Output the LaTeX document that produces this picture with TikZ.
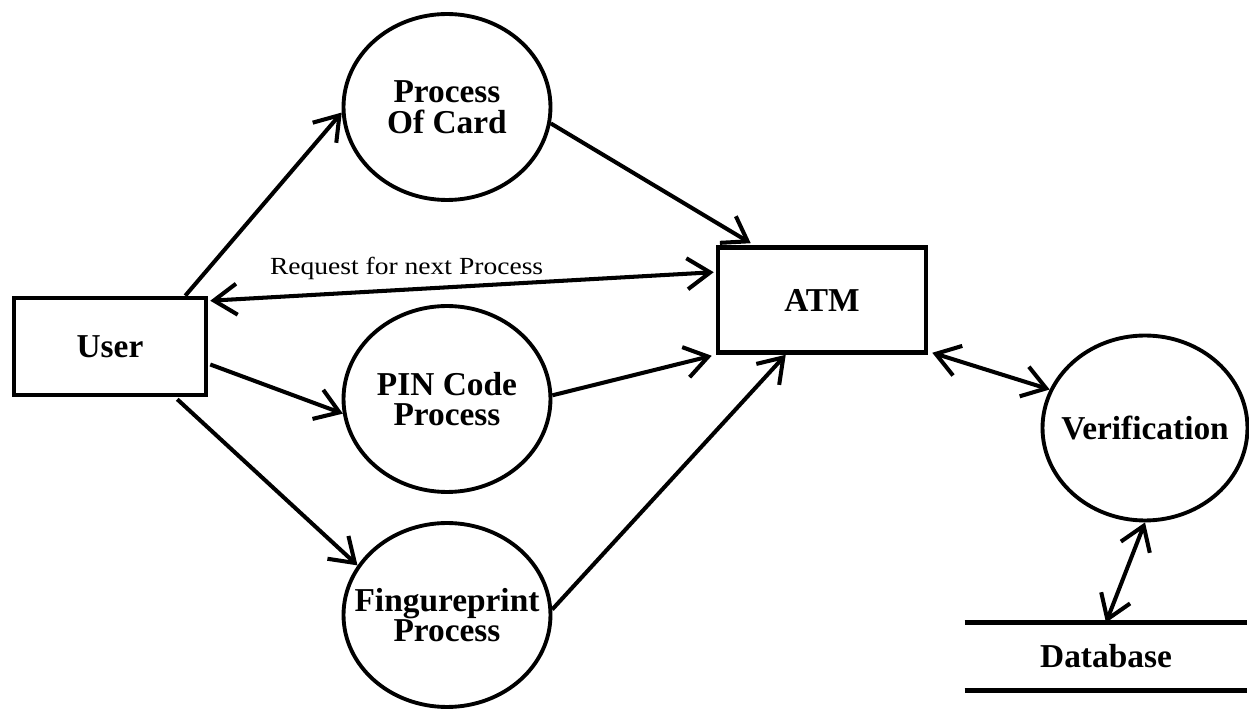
\documentclass[tikz,border=0pt]{standalone}
\usepackage{fontspec}
\setmainfont{Liberation Serif}
\newfontfamily\reqfont[FakeStretch=1.12]{Liberation Serif}
\usetikzlibrary{calc}
\usetikzlibrary{arrows.meta}
\usetikzlibrary{shapes.geometric}

\newcommand{\dfdfont}{\fontsize{19}{17.5}\selectfont\bfseries}
\newcommand{\barb}{Straight Barb[length=0.46cm,width=0.62cm]}
% zero width line, so the ellipse keeps its own size
\newcommand{\zl}[1]{\makebox[0pt]{#1}}
\tikzset{
  entity/.style={draw,rectangle,line width=2.6pt,inner sep=0pt,font=\dfdfont},
  process/.style={draw,ellipse,line width=2.2pt,inner sep=0pt,align=center,
    minimum width=4.14cm,minimum height=3.72cm,font=\dfdfont},
  store/.style={inner sep=0pt,minimum width=5.64cm,minimum height=1.34cm,font=\dfdfont},
  flow/.style={line width=2.3pt,-{\barb}},
  biflow/.style={line width=2.3pt,{\barb}-{\barb}}
}

\begin{document}
\begin{tikzpicture}[x=0.02cm,y=-0.02cm]
    \useasboundingbox (0,0) rectangle (1249,709);

    % External entities
    \node[entity,minimum width=3.84cm,minimum height=1.94cm] (user) at (110,346.5) {User};
    \node[entity,minimum width=4.16cm,minimum height=2.1cm] (atm) at (822,300) {ATM};

    % Processes
    \node[process] (card) at (447,107) {\zl{Process}\\\zl{Of Card}};
    \node[process] (pin) at (447,399) {\zl{PIN Code}\\\zl{Process}};
    \node[process,minimum height=3.68cm] (finger) at (447,615) {\zl{Fingureprint}\\\zl{Process}};
    \node[process,minimum width=4.1cm,minimum height=3.7cm] (verif) at (1145,428) {\zl{Verification}};

    % Data store
    \node[store] (db) at (1106,656.5) {Database};
    \draw[line width=2.6pt]
      (db.north west) -- (db.north east)
      (db.south west) -- (db.south east);

    % User side flows
    \draw[flow] ($(user.north east)+(-23,0)$) -- (card.183);
    \draw[flow] ($(user.east)+(2,18)$) -- (pin.188);
    \draw[flow] ($(user.south east)+(-31,2)$) -- (finger.151);
    \draw[biflow] ($(user.north east)+(2,5)$) -- ($(atm.north west)+(-2,27)$)
      node[pos=0.39,above=1pt,font=\reqfont\fontsize{14}{16}\selectfont] (req) {Request for next Process};

    % Flows into the ATM
    \draw[flow] (card.-9) -- ($(atm.north west)+(35,-2)$);
    \draw[flow] (pin.2) -- ($(atm.south west)+(-4,1)$);
    \draw[flow] (finger.3) -- ($(atm.south west)+(70,0)$);

    % Verification
    \draw[biflow] ($(atm.south east)+(4,-2)$) -- (verif.158);
    \draw[biflow] (verif.south) -- (db.north);
\end{tikzpicture}
\end{document}
